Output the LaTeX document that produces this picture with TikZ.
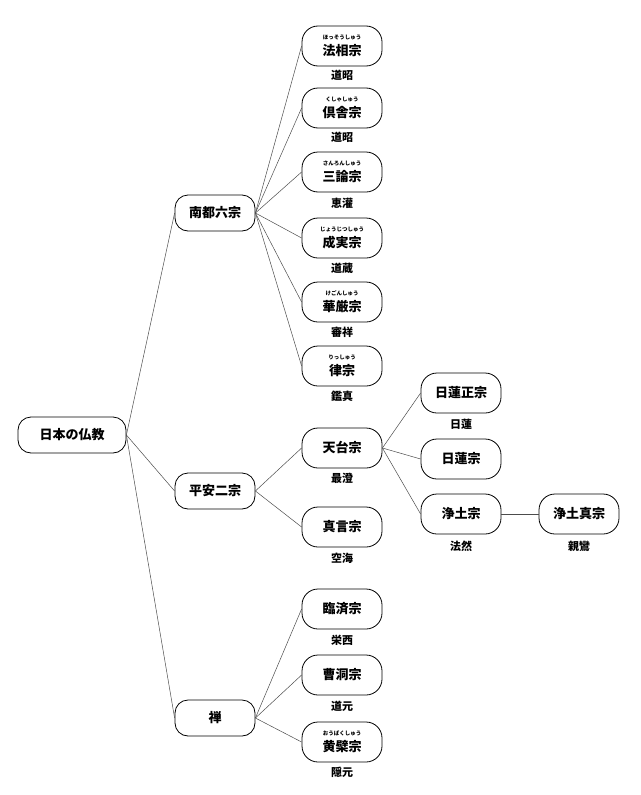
\documentclass[tikz,border=0pt]{standalone}
\usepackage{fontspec}
\setmainfont{Noto Sans CJK JP}
\begin{document}
\begin{tikzpicture}[x=1pt,y=-1pt,
  box/.style={draw,line width=0.8pt,rounded corners=13pt,minimum height=36pt,font=\fontsize{13}{14}\selectfont\bfseries,inner sep=2pt},
  leaf/.style={box,minimum width=80pt,minimum height=40pt,rounded corners=16pt},
  lab/.style={font=\fontsize{11}{12}\selectfont\bfseries},
  conn/.style={line width=0.5pt,draw=black!70}]
\useasboundingbox (0,0) rectangle (640,795);
\newcommand{\rb}[2]{\shortstack{\fontsize{5.5}{6}\selectfont #1\\[1pt]#2}}
\node[box,minimum width=108pt] (root) at (72,435) {日本の仏教};
\node[box,minimum width=80pt] (nanto) at (215,213) {南都六宗};
\node[box,minimum width=80pt] (heian) at (215,491) {平安二宗};
\node[box,minimum width=80pt] (zen) at (215,718) {禅};
\node[leaf] (hosso) at (342,46) {\rb{ほっそうしゅう}{法相宗}};
\node[lab] at (342,75) {道昭};
\node[leaf] (kusha) at (342,108) {\rb{くしゃしゅう}{倶舎宗}};
\node[lab] at (342,137) {道昭};
\node[leaf] (sanron) at (342,172) {\rb{さんろんしゅう}{三論宗}};
\node[lab] at (342,203) {恵灌};
\node[leaf] (jojitsu) at (342,238) {\rb{じょうじつしゅう}{成実宗}};
\node[lab] at (342,268) {道蔵};
\node[leaf] (kegon) at (342,302) {\rb{けごんしゅう}{華厳宗}};
\node[lab] at (342,332) {審祥};
\node[leaf] (ritsu) at (342,366) {\rb{りっしゅう}{律宗}};
\node[lab] at (342,396) {鑑真};
\node[leaf] (tendai) at (342,448) {天台宗};
\node[lab] at (342,478) {最澄};
\node[leaf] (shingon) at (342,527) {真言宗};
\node[lab] at (342,558) {空海};
\node[leaf] (rinzai) at (342,609) {臨済宗};
\node[lab] at (342,640) {栄西};
\node[leaf] (soto) at (342,675) {曹洞宗};
\node[lab] at (342,706) {道元};
\node[leaf] (obaku) at (342,742) {\rb{おうばくしゅう}{黄檗宗}};
\node[lab] at (342,772) {隠元};
\node[leaf] (nsho) at (461,393) {日蓮正宗};
\node[lab] at (461,424) {日蓮};
\node[leaf] (nichiren) at (461,459) {日蓮宗};
\node[leaf] (jodo) at (461,514) {浄土宗};
\node[lab] at (461,546) {法然};
\node[leaf] (shinshu) at (579,514) {浄土真宗};
\node[lab] at (579,546) {親鸞};
\foreach \c in {nanto,heian,zen} \draw[conn] (root.east) -- (\c.west);
\foreach \c in {hosso,kusha,sanron,jojitsu,kegon,ritsu} \draw[conn] (nanto.east) -- (\c.west);
\foreach \c in {tendai,shingon} \draw[conn] (heian.east) -- (\c.west);
\foreach \c in {rinzai,soto,obaku} \draw[conn] (zen.east) -- (\c.west);
\foreach \c in {nsho,nichiren,jodo} \draw[conn] (tendai.east) -- (\c.west);
\draw[conn] (jodo.east) -- (shinshu.west);
\end{tikzpicture}
\end{document}
